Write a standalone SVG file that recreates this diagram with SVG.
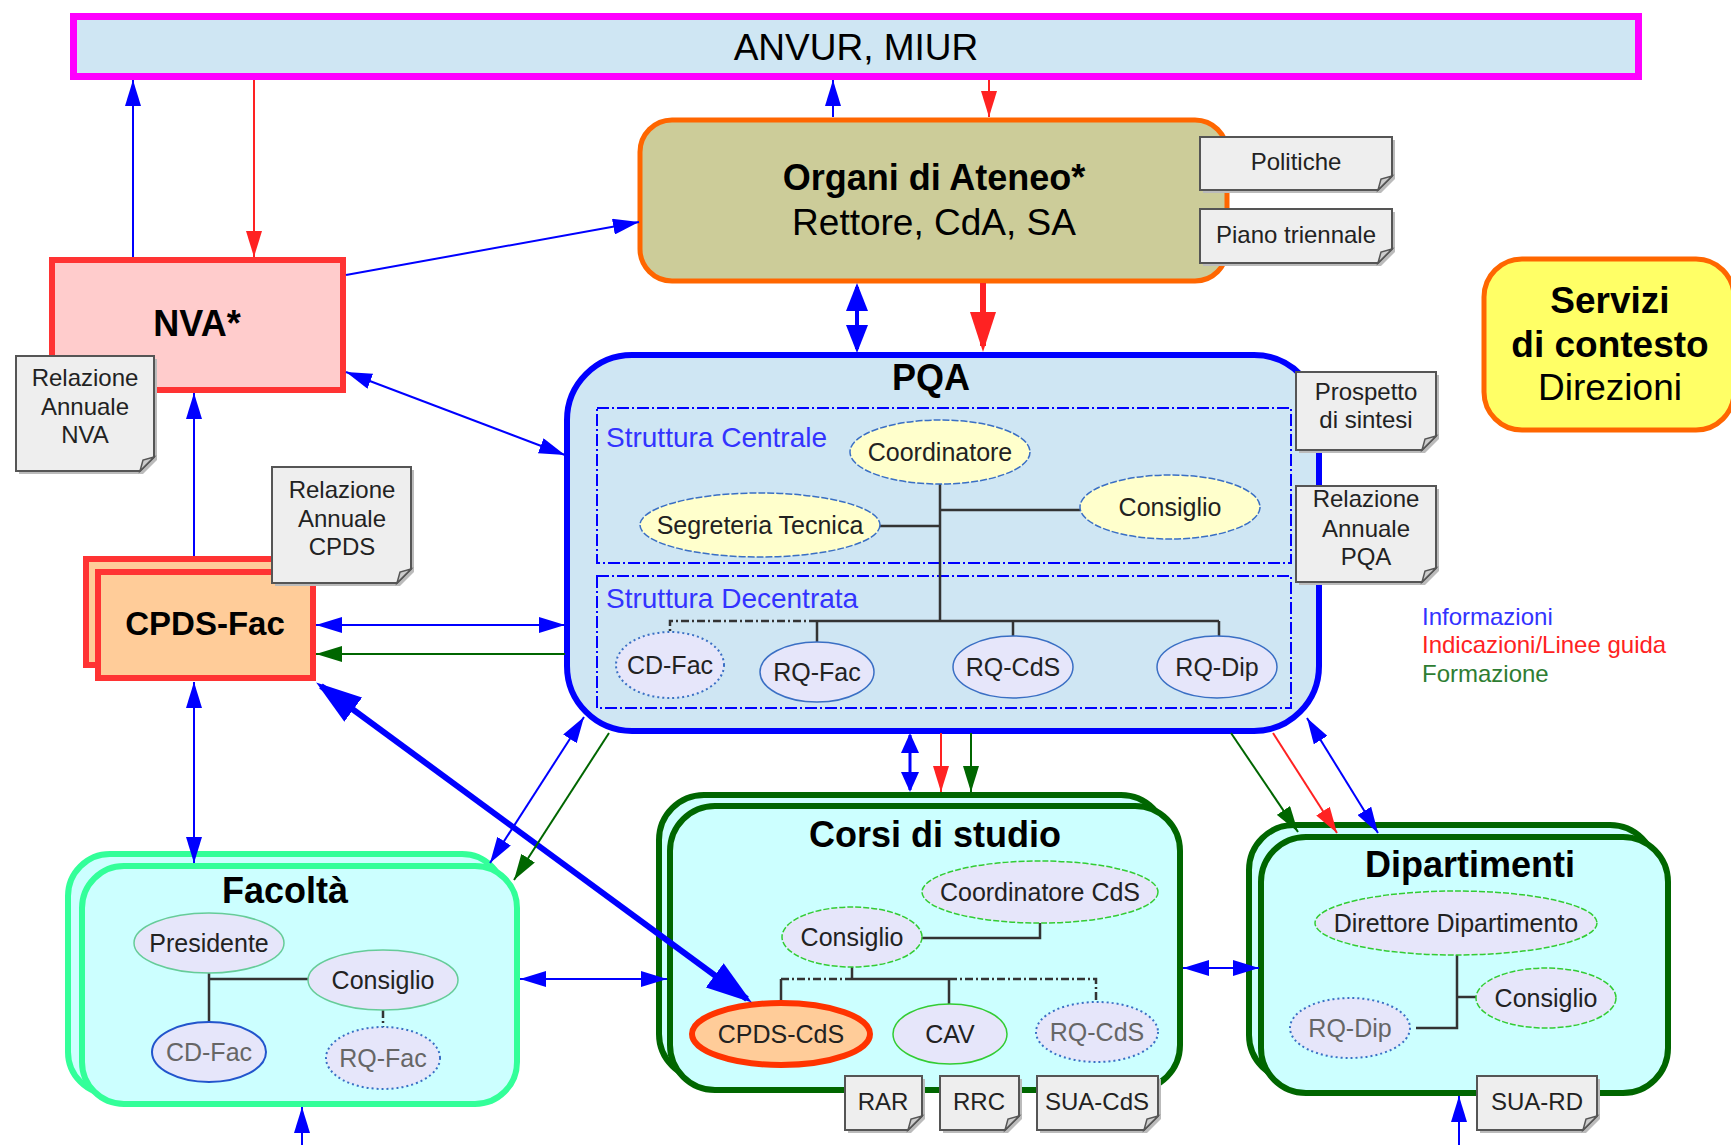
<svg xmlns="http://www.w3.org/2000/svg" width="1731" height="1145" viewBox="0 0 1731 1145">
<style>
text{font-family:"Liberation Sans",Arial,sans-serif;fill:#000}
.t{font-size:36px;font-weight:bold;text-anchor:middle}
.n{font-size:24px;text-anchor:middle;fill:#222}
.e{font-size:25px;text-anchor:middle;fill:#222}
.eg{font-size:25px;text-anchor:middle;fill:#666}
.lg{font-size:24px}
.note{fill:#eeeeee;stroke:#555;stroke-width:2}
.fold{fill:#cccccc;stroke:#555;stroke-width:1.5}
.shd{fill:#bbbbbb}
.sb{fill:none;stroke:#0000ff;stroke-width:2;stroke-dasharray:12,3,2,3}
.ln{stroke:#333;stroke-width:2.5;fill:none}
.lnd{stroke:#333;stroke-width:2.5;fill:none;stroke-dasharray:8,3,2,3}
.ey{fill:#ffffcc;stroke:#3a6fc4;stroke-width:1.5;stroke-dasharray:7,2}
.el{fill:#e6e6fa;stroke:#3a6fc4;stroke-width:1.5}
.ed{fill:#e6e6fa;stroke:#3a6fc4;stroke-width:2;stroke-dasharray:2,3}
.egr{fill:#e6e6fa;stroke:#33cc33;stroke-width:1.5;stroke-dasharray:6,2}
.efa{fill:#e6e6fa;stroke:#66cc99;stroke-width:1.5}
.cB{stroke:#0000ff;stroke-width:2;fill:none}
.cR{stroke:#ff2222;stroke-width:2;fill:none}
.cG{stroke:#006600;stroke-width:2;fill:none}
</style>
<defs>
<marker id="aB" viewBox="0 0 26 16" refX="26" refY="8" markerWidth="26" markerHeight="16" markerUnits="userSpaceOnUse" orient="auto-start-reverse"><path d="M0,0L26,8L0,16Z" fill="#0000ff"/></marker>
<marker id="aR" viewBox="0 0 26 16" refX="26" refY="8" markerWidth="26" markerHeight="16" markerUnits="userSpaceOnUse" orient="auto-start-reverse"><path d="M0,0L26,8L0,16Z" fill="#ff2222"/></marker>
<marker id="aG" viewBox="0 0 26 16" refX="26" refY="8" markerWidth="26" markerHeight="16" markerUnits="userSpaceOnUse" orient="auto-start-reverse"><path d="M0,0L26,8L0,16Z" fill="#006600"/></marker>
<marker id="aBm" viewBox="0 0 28 22" refX="24" refY="11" markerWidth="28" markerHeight="22" markerUnits="userSpaceOnUse" orient="auto-start-reverse"><path d="M0,0L28,11L0,22Z" fill="#0000ff"/></marker>
<marker id="aBs" viewBox="0 0 20 18" refX="18" refY="9" markerWidth="20" markerHeight="18" markerUnits="userSpaceOnUse" orient="auto-start-reverse"><path d="M0,0L20,9L0,18Z" fill="#0000ff"/></marker>
<marker id="aBL" viewBox="0 0 46 30" refX="40" refY="15" markerWidth="46" markerHeight="30" markerUnits="userSpaceOnUse" orient="auto-start-reverse"><path d="M0,0L46,15L0,30Z" fill="#0000ff"/></marker>
<marker id="aRL" viewBox="0 0 40 26" refX="34" refY="13" markerWidth="40" markerHeight="26" markerUnits="userSpaceOnUse" orient="auto-start-reverse"><path d="M0,0L40,13L0,26Z" fill="#ff2222"/></marker>
</defs>
<rect width="1731" height="1145" fill="#ffffff"/>

<g id="anvur">
<rect x="73.5" y="16.5" width="1565" height="60" fill="#cfe6f3" stroke="#ff00ff" stroke-width="7"/>
<text x="856" y="60" style="font-size:37px;text-anchor:middle">ANVUR, MIUR</text>
</g>

<g id="organi">
<rect x="640" y="120" width="587" height="161" rx="32" fill="#cccc99" stroke="#ff6600" stroke-width="5"/>
<text x="934" y="190" class="t">Organi di Ateneo*</text>
<text x="934" y="235" style="font-size:37px;text-anchor:middle">Rettore, CdA, SA</text>
</g>

<g id="note-politiche">
<path class="shd" transform="translate(3,3)" d="M1200,137H1392V176L1378,190H1200Z"/>
<path class="note" d="M1200,137H1392V176L1378,190H1200Z"/>
<path class="fold" d="M1392,176L1378,190L1381,179Z"/>
<text x="1296" y="170" class="n">Politiche</text>
</g>
<g id="note-piano">
<path class="shd" transform="translate(3,3)" d="M1200,209H1392V249L1378,263H1200Z"/>
<path class="note" d="M1200,209H1392V249L1378,263H1200Z"/>
<path class="fold" d="M1392,249L1378,263L1381,252Z"/>
<text x="1296" y="243" class="n">Piano triennale</text>
</g>

<g id="servizi">
<rect x="1484" y="259" width="250" height="171" rx="38" fill="#ffff66" stroke="#ff6600" stroke-width="5"/>
<text x="1610" y="313" style="font-size:37px;font-weight:bold;text-anchor:middle">Servizi</text>
<text x="1610" y="357" style="font-size:37px;font-weight:bold;text-anchor:middle">di contesto</text>
<text x="1610" y="400" style="font-size:37px;text-anchor:middle">Direzioni</text>
</g>

<g id="nva">
<rect x="52" y="260" width="291" height="130" fill="#ffcccc" stroke="#ff3333" stroke-width="6"/>
<text x="197" y="336" class="t">NVA*</text>
</g>
<g id="note-nva">
<path class="shd" transform="translate(3,3)" d="M16,356H154V457L140,471H16Z"/>
<path class="note" d="M16,356H154V457L140,471H16Z"/>
<path class="fold" d="M154,457L140,471L143,460Z"/>
<text x="85" y="386" class="n">Relazione</text>
<text x="85" y="415" class="n">Annuale</text>
<text x="85" y="443" class="n">NVA</text>
</g>

<g id="cpds-fac">
<rect x="86" y="559" width="215" height="106" fill="#ffcc99" stroke="#ff3333" stroke-width="6"/>
<rect x="98" y="572" width="215" height="106" fill="#ffcc99" stroke="#ff3333" stroke-width="6"/>
<text x="205" y="635" style="font-size:33px;font-weight:bold;text-anchor:middle">CPDS-Fac</text>
</g>
<g id="note-cpds">
<path class="shd" transform="translate(3,3)" d="M272,467H411V569L397,583H272Z"/>
<path class="note" d="M272,467H411V569L397,583H272Z"/>
<path class="fold" d="M411,569L397,583L400,572Z"/>
<text x="342" y="498" class="n">Relazione</text>
<text x="342" y="527" class="n">Annuale</text>
<text x="342" y="555" class="n">CPDS</text>
</g>

<g id="pqa">
<rect x="567" y="355" width="752" height="376" rx="65" fill="#cfe6f3" stroke="#0000ff" stroke-width="6"/>
<text x="931" y="390" class="t">PQA</text>
<rect class="sb" x="597" y="408" width="694" height="155"/>
<rect class="sb" x="597" y="576" width="694" height="132"/>
<text x="606" y="447" style="font-size:28px;fill:#3333ff">Struttura Centrale</text>
<text x="606" y="608" style="font-size:28px;fill:#3333ff">Struttura Decentrata</text>
<path class="ln" d="M940,484V621M940,510H1080M879,526H940M817,621H1219M817,621V642M1013,621V636M1219,621V637"/>
<path class="lnd" d="M817,621H670V633"/>
<ellipse class="ey" cx="940" cy="452" rx="90" ry="32"/>
<text x="940" y="461" class="e">Coordinatore</text>
<ellipse class="ey" cx="760" cy="525" rx="120" ry="32"/>
<text x="760" y="534" class="e">Segreteria Tecnica</text>
<ellipse class="ey" cx="1170" cy="507" rx="90" ry="32"/>
<text x="1170" y="516" class="e">Consiglio</text>
<ellipse class="ed" cx="670" cy="665" rx="54" ry="33"/>
<text x="670" y="674" class="e">CD-Fac</text>
<ellipse class="el" cx="817" cy="672" rx="57" ry="30"/>
<text x="817" y="681" class="e">RQ-Fac</text>
<ellipse class="el" cx="1013" cy="667" rx="60" ry="31"/>
<text x="1013" y="676" class="e">RQ-CdS</text>
<ellipse class="el" cx="1217" cy="667" rx="60" ry="31"/>
<text x="1217" y="676" class="e">RQ-Dip</text>
</g>
<g id="note-prospetto">
<path class="shd" transform="translate(3,3)" d="M1296,372H1436V436L1422,450H1296Z"/>
<path class="note" d="M1296,372H1436V436L1422,450H1296Z"/>
<path class="fold" d="M1436,436L1422,450L1425,439Z"/>
<text x="1366" y="400" class="n">Prospetto</text>
<text x="1366" y="428" class="n">di sintesi</text>
</g>
<g id="note-pqa">
<path class="shd" transform="translate(3,3)" d="M1296,486H1436V568L1422,582H1296Z"/>
<path class="note" d="M1296,486H1436V568L1422,582H1296Z"/>
<path class="fold" d="M1436,568L1422,582L1425,571Z"/>
<text x="1366" y="507" class="n">Relazione</text>
<text x="1366" y="537" class="n">Annuale</text>
<text x="1366" y="565" class="n">PQA</text>
</g>

<g id="legend">
<text x="1422" y="625" class="lg" style="fill:#3333ff">Informazioni</text>
<text x="1422" y="653" class="lg" style="fill:#ff2222">Indicazioni/Linee guida</text>
<text x="1422" y="682" class="lg" style="fill:#2e7d32">Formazione</text>
</g>

<g id="facolta">
<rect x="68" y="854" width="436" height="240" rx="42" fill="#ccffff" stroke="#33ff99" stroke-width="6"/>
<rect x="82" y="866" width="435" height="238" rx="42" fill="#ccffff" stroke="#33ff99" stroke-width="6"/>
<text x="285" y="903" class="t">Facoltà</text>
<path class="ln" d="M209,973V1022M209,979H308"/>
<path class="lnd" d="M383,1010V1027"/>
<ellipse class="efa" cx="209" cy="943" rx="75" ry="30"/>
<text x="209" y="952" class="e">Presidente</text>
<ellipse class="efa" cx="383" cy="980" rx="75" ry="30"/>
<text x="383" y="989" class="e">Consiglio</text>
<ellipse class="el" style="stroke:#2255cc;stroke-width:2" cx="209" cy="1052" rx="57" ry="30"/>
<text x="209" y="1061" class="eg">CD-Fac</text>
<ellipse class="ed" cx="383" cy="1058" rx="57" ry="31"/>
<text x="383" y="1067" class="eg">RQ-Fac</text>
</g>

<g id="corsi">
<rect x="659" y="795" width="507" height="284" rx="45" fill="#ccffff" stroke="#006600" stroke-width="6"/>
<rect x="670" y="806" width="510" height="284" rx="45" fill="#ccffff" stroke="#006600" stroke-width="6"/>
<text x="935" y="847" class="t">Corsi di studio</text>
<path class="ln" d="M1040,923V938H922M852,967V979M852,979H949M781,979V1003M949,979V1004"/>
<path class="lnd" d="M781,979H852M949,979H1096V1002"/>
<ellipse class="egr" cx="1040" cy="892" rx="118" ry="31"/>
<text x="1040" y="901" class="e">Coordinatore CdS</text>
<ellipse class="egr" cx="852" cy="937" rx="70" ry="30"/>
<text x="852" y="946" class="e">Consiglio</text>
<ellipse cx="781" cy="1034" rx="89" ry="31" fill="#ffcc99" stroke="#ff3300" stroke-width="6"/>
<text x="781" y="1043" class="e">CPDS-CdS</text>
<ellipse class="egr" style="stroke-dasharray:none" cx="950" cy="1034" rx="57" ry="30"/>
<text x="950" y="1043" class="e">CAV</text>
<ellipse class="ed" cx="1097" cy="1032" rx="61" ry="30"/>
<text x="1097" y="1041" class="eg">RQ-CdS</text>
</g>
<g id="note-rar">
<path class="shd" transform="translate(3,3)" d="M845,1076H922V1116L908,1130H845Z"/>
<path class="note" d="M845,1076H922V1116L908,1130H845Z"/>
<path class="fold" d="M922,1116L908,1130L911,1119Z"/>
<text x="883" y="1110" class="n">RAR</text>
</g>
<g id="note-rrc">
<path class="shd" transform="translate(3,3)" d="M940,1076H1019V1116L1005,1130H940Z"/>
<path class="note" d="M940,1076H1019V1116L1005,1130H940Z"/>
<path class="fold" d="M1019,1116L1005,1130L1008,1119Z"/>
<text x="979" y="1110" class="n">RRC</text>
</g>
<g id="note-suacds">
<path class="shd" transform="translate(3,3)" d="M1037,1076H1158V1116L1144,1130H1037Z"/>
<path class="note" d="M1037,1076H1158V1116L1144,1130H1037Z"/>
<path class="fold" d="M1158,1116L1144,1130L1147,1119Z"/>
<text x="1097" y="1110" class="n">SUA-CdS</text>
</g>

<g id="dipartimenti">
<rect x="1249" y="825" width="406" height="255" rx="45" fill="#ccffff" stroke="#006600" stroke-width="6"/>
<rect x="1261" y="837" width="407" height="256" rx="45" fill="#ccffff" stroke="#006600" stroke-width="6"/>
<text x="1470" y="877" class="t">Dipartimenti</text>
<path class="ln" d="M1457,955V1028H1416M1457,997H1476"/>
<ellipse class="egr" cx="1456" cy="923" rx="141" ry="32"/>
<text x="1456" y="932" class="e">Direttore Dipartimento</text>
<ellipse class="egr" cx="1546" cy="998" rx="70" ry="30"/>
<text x="1546" y="1007" class="e">Consiglio</text>
<ellipse class="ed" cx="1350" cy="1028" rx="60" ry="30"/>
<text x="1350" y="1037" class="eg">RQ-Dip</text>
</g>
<g id="note-suard">
<path class="shd" transform="translate(3,3)" d="M1477,1076H1597V1116L1583,1130H1477Z"/>
<path class="note" d="M1477,1076H1597V1116L1583,1130H1477Z"/>
<path class="fold" d="M1597,1116L1583,1130L1586,1119Z"/>
<text x="1537" y="1110" class="n">SUA-RD</text>
</g>

<g id="connectors">
<line class="cB" x1="133" y1="257" x2="133" y2="80" marker-end="url(#aB)"/>
<line class="cR" x1="254" y1="80" x2="254" y2="257" marker-end="url(#aR)"/>
<line class="cB" x1="833" y1="117" x2="833" y2="80" marker-end="url(#aB)"/>
<line class="cR" x1="989" y1="80" x2="989" y2="117" marker-end="url(#aR)"/>
<line class="cB" x1="346" y1="275" x2="639" y2="222" marker-end="url(#aB)"/>
<line class="cB" style="stroke-width:4" x1="857" y1="287" x2="857" y2="349" marker-start="url(#aBm)" marker-end="url(#aBm)"/>
<line class="cR" style="stroke-width:6" x1="983" y1="283" x2="983" y2="346" marker-end="url(#aRL)"/>
<line class="cB" x1="346" y1="372" x2="565" y2="455" marker-start="url(#aB)" marker-end="url(#aB)"/>
<line class="cB" x1="194" y1="556" x2="194" y2="393" marker-end="url(#aB)"/>
<line class="cB" x1="316" y1="625" x2="565" y2="625" marker-start="url(#aB)" marker-end="url(#aB)"/>
<line class="cG" x1="565" y1="654" x2="316" y2="654" marker-end="url(#aG)"/>
<line class="cB" style="stroke-width:6" x1="321" y1="686" x2="747" y2="999" marker-start="url(#aBL)" marker-end="url(#aBL)"/>
<line class="cB" x1="194" y1="682" x2="194" y2="863" marker-start="url(#aB)" marker-end="url(#aB)"/>
<line class="cB" x1="584" y1="717" x2="490" y2="863" marker-start="url(#aB)" marker-end="url(#aB)"/>
<line class="cG" x1="609" y1="733" x2="514" y2="880" marker-end="url(#aG)"/>
<line class="cB" x1="520" y1="979" x2="667" y2="979" marker-start="url(#aB)" marker-end="url(#aB)"/>
<line class="cB" style="stroke-width:3" x1="910" y1="735" x2="910" y2="790" marker-start="url(#aBs)" marker-end="url(#aBs)"/>
<line class="cR" x1="941" y1="733" x2="941" y2="792" marker-end="url(#aR)"/>
<line class="cG" x1="971" y1="733" x2="971" y2="792" marker-end="url(#aG)"/>
<line class="cG" x1="1231" y1="733" x2="1298" y2="832" marker-end="url(#aG)"/>
<line class="cR" x1="1273" y1="733" x2="1337" y2="833" marker-end="url(#aR)"/>
<line class="cB" x1="1307" y1="718" x2="1378" y2="833" marker-start="url(#aB)" marker-end="url(#aB)"/>
<line class="cB" x1="1183" y1="968" x2="1259" y2="968" marker-start="url(#aB)" marker-end="url(#aB)"/>
<line class="cB" x1="302" y1="1145" x2="302" y2="1107" marker-end="url(#aB)"/>
<line class="cB" x1="1459" y1="1145" x2="1459" y2="1096" marker-end="url(#aB)"/>
</g>
</svg>
